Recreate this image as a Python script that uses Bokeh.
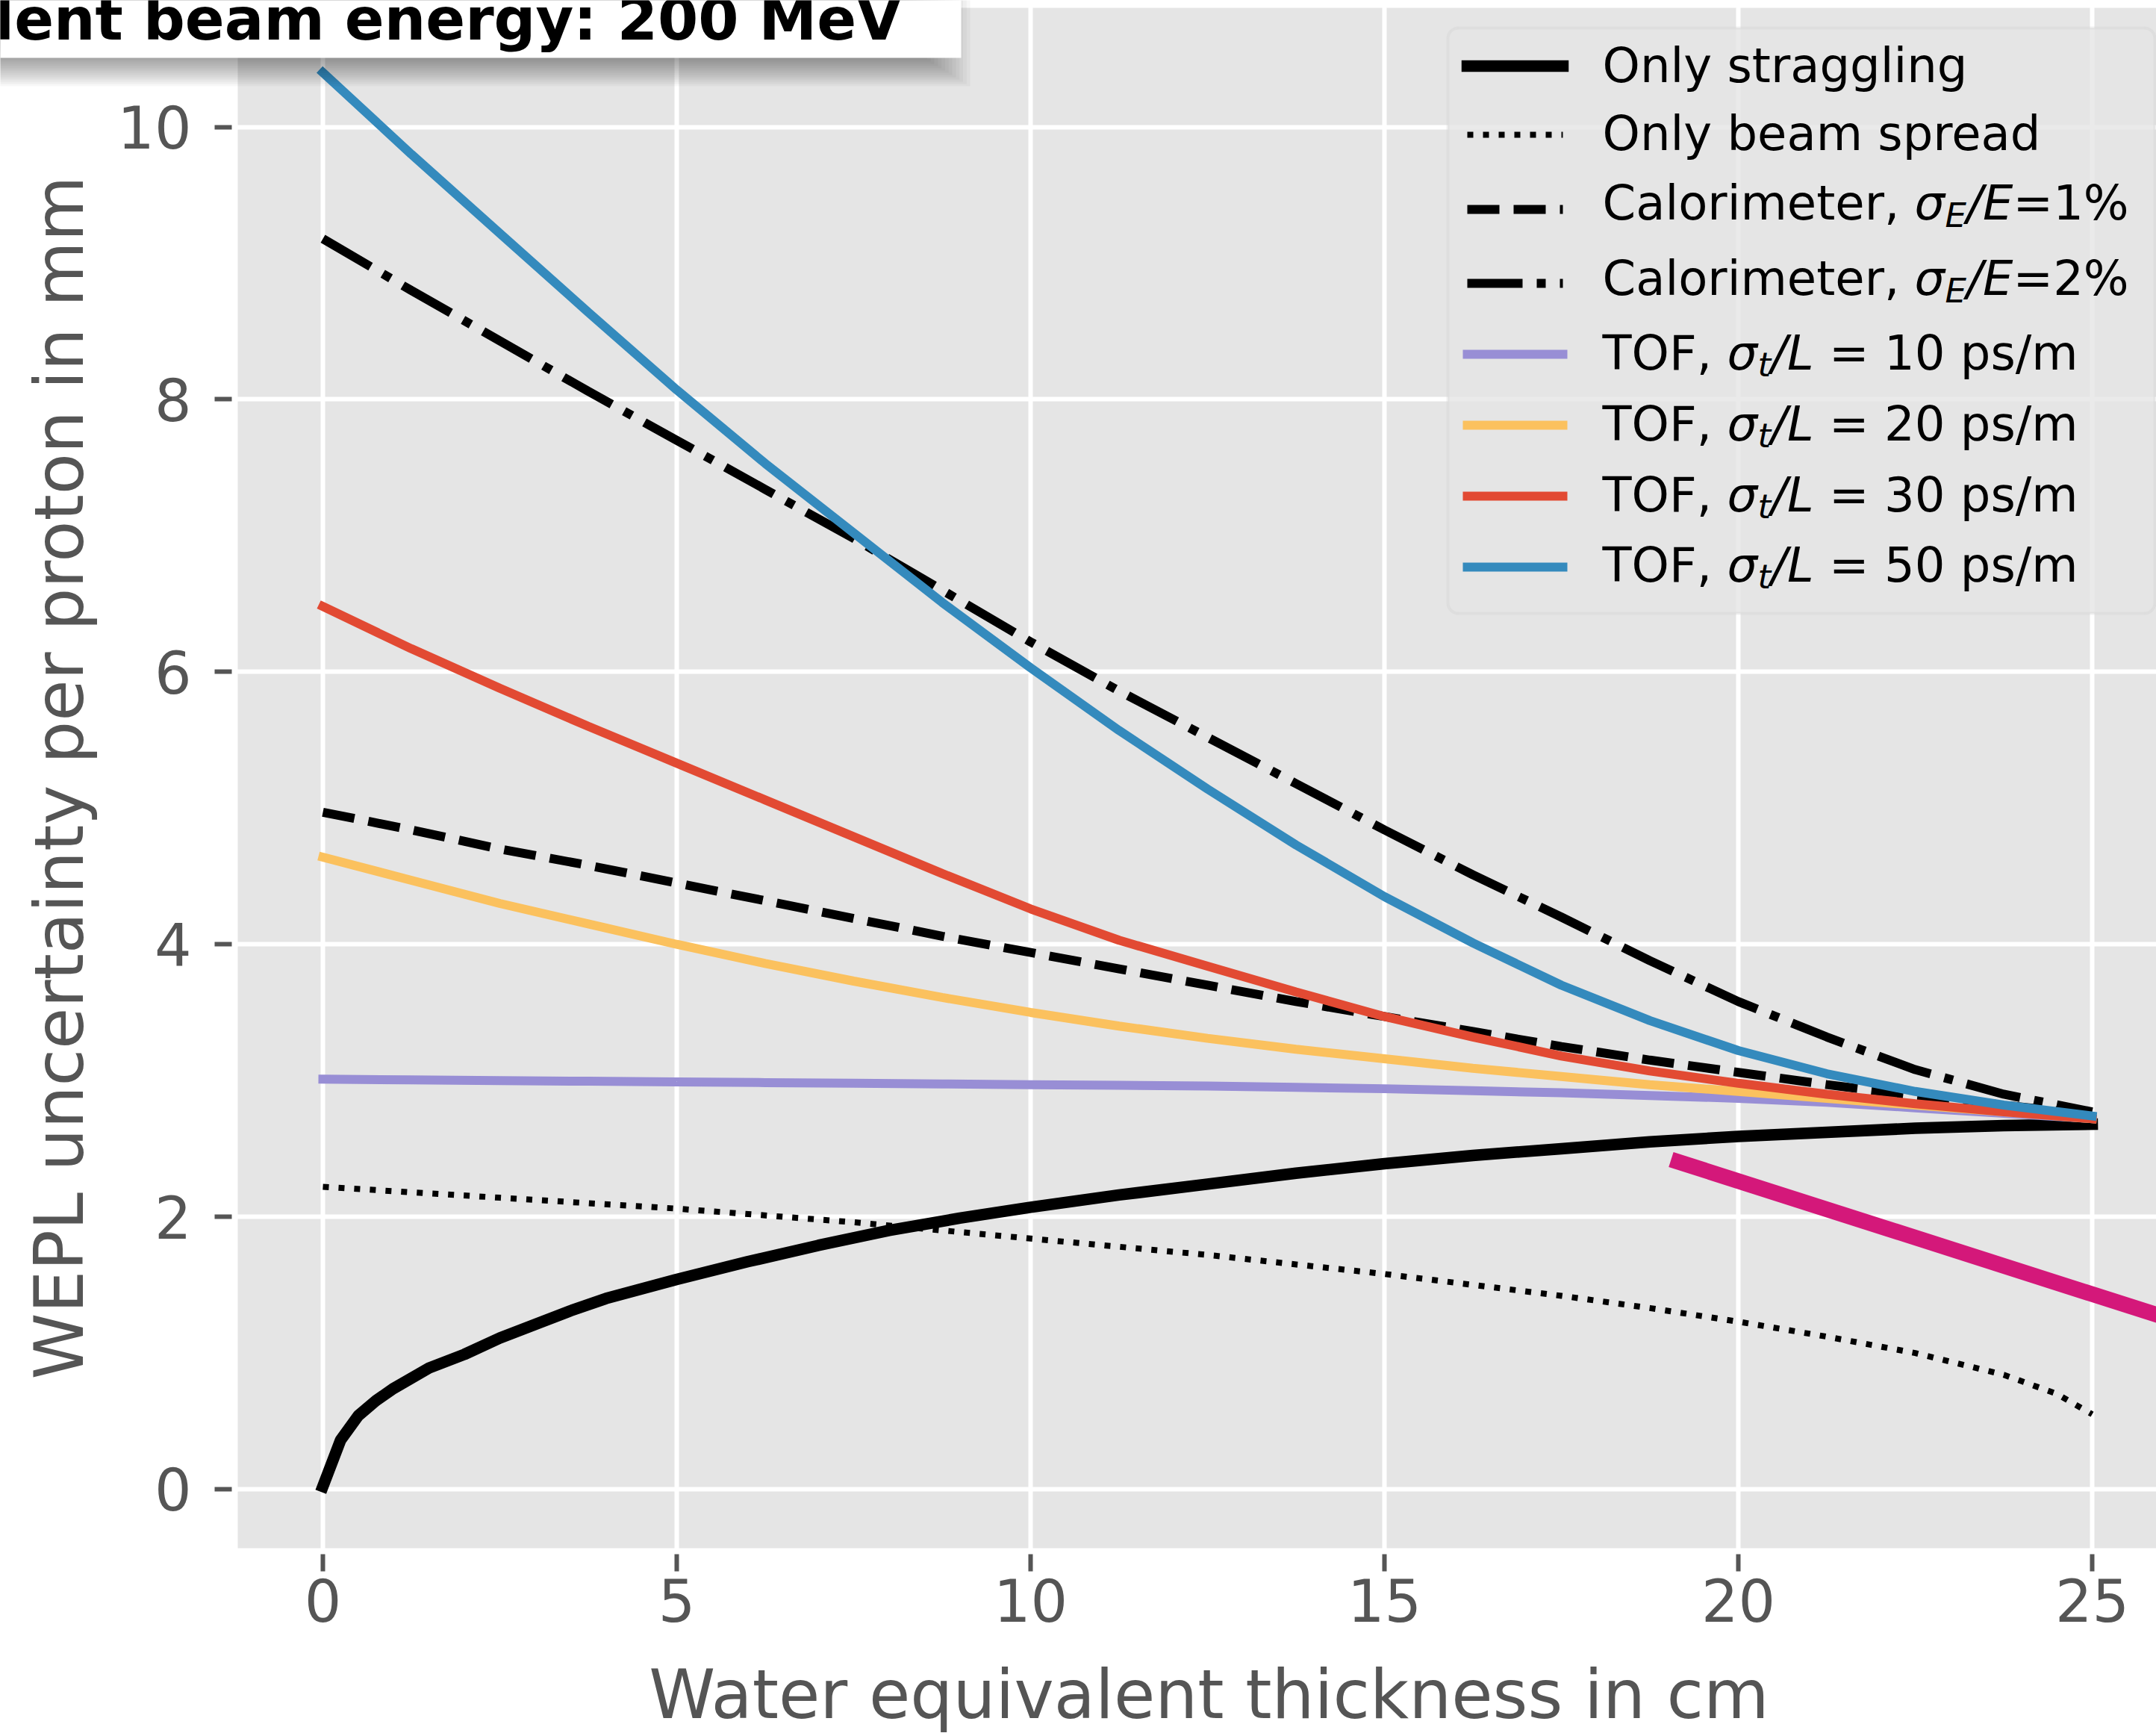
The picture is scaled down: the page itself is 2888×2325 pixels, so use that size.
from bokeh.plotting import figure
from bokeh.models import Range1d, FixedTicker, Label, BoxAnnotation, Arrow
from bokeh.embed import file_html
from bokeh.resources import INLINE

# ---------------- data ----------------
thickness = [0, 1.25, 2.5, 3.75, 5, 6.25, 7.5, 8.75, 10, 11.25, 12.5, 13.75, 15,
             16.25, 17.5, 18.75, 20, 21.25, 22.5, 23.75, 25]
tof_50 = [10.40, 9.80, 9.22, 8.64, 8.07, 7.53, 7.02, 6.51, 6.03, 5.57, 5.14, 4.73, 4.35,
          4.01, 3.70, 3.44, 3.22, 3.05, 2.92, 2.82, 2.74]
calorimeter_2 = [9.18, 8.80, 8.43, 8.06, 7.70, 7.34, 6.98, 6.60, 6.22, 5.86, 5.52, 5.18, 4.84,
                 4.51, 4.20, 3.88, 3.58, 3.32, 3.08, 2.90, 2.77]
tof_30 = [6.48, 6.17, 5.88, 5.60, 5.33, 5.06, 4.79, 4.52, 4.26, 4.03, 3.84, 3.65, 3.47,
          3.32, 3.18, 3.07, 2.98, 2.90, 2.83, 2.77, 2.72]
calorimeter_1 = [4.97, 4.84, 4.70, 4.58, 4.45, 4.32, 4.19, 4.06, 3.94, 3.82, 3.70, 3.58, 3.47,
                 3.36, 3.25, 3.15, 3.06, 2.97, 2.89, 2.82, 2.75]
tof_20 = [4.64, 4.47, 4.30, 4.15, 4.00, 3.86, 3.73, 3.61, 3.50, 3.40, 3.31, 3.23, 3.16,
          3.09, 3.03, 2.97, 2.92, 2.87, 2.82, 2.77, 2.72]
tof_10 = [3.01, 3.005, 3.00, 2.995, 2.99, 2.985, 2.98, 2.975, 2.97, 2.965, 2.96, 2.95, 2.94,
          2.925, 2.91, 2.89, 2.87, 2.84, 2.80, 2.76, 2.72]

straggling_x = [0, 0.25, 0.5, 0.75, 1, 1.5, 2, 2.5, 3, 3.5, 4, 5, 6, 7, 8, 9, 10, 11.25, 12.5,
                13.75, 15, 16.25, 17.5, 18.75, 20, 21.25, 22.5, 23.75, 25]
straggling_y = [0.02, 0.36, 0.54, 0.65, 0.74, 0.89, 0.99, 1.11, 1.21, 1.31, 1.40, 1.54, 1.67,
                1.79, 1.90, 1.99, 2.07, 2.16, 2.24, 2.32, 2.39, 2.45, 2.50, 2.55, 2.59, 2.62,
                2.65, 2.67, 2.68]

beam_spread_x = [0, 2.5, 5, 7.5, 10, 12.5, 15, 17.5, 18.75, 20, 21.25, 22.5, 23.75, 24.5, 25]
beam_spread_y = [2.22, 2.14, 2.06, 1.96, 1.84, 1.72, 1.58, 1.42, 1.33, 1.23, 1.12, 1.00,
                 0.84, 0.70, 0.55]

highlight_x = [19.05, 27.0]
highlight_y = [2.42, 1.10]

x_ticks = [0, 5, 10, 15, 20, 25]
y_ticks = [0, 2, 4, 6, 8, 10]

title_text = "Incident beam energy: 200 MeV"
x_label = "Water equivalent thickness in cm"
y_label = "WEPL uncertainty per proton in mm"

# ---------------- layout ----------------
W, H = 2888, 2325
# data window shown by the whole canvas (axes are pinned at the plot-area edges)
X0, X1 = -4.557, 25.907
Y0, Y1 = -1.8143, 10.9296
AREA_LEFT, AREA_BOTTOM, AREA_TOP = -1.2025, -0.433, 10.875


def sx(cx):
    return cx


def sy(cy):
    return H - cy


p = figure(width=W, height=H,
           x_range=Range1d(X0, X1), y_range=Range1d(Y0, Y1),
           output_backend="svg", toolbar_location=None,
           min_border_left=0, min_border_right=0, min_border_top=0, min_border_bottom=0)
p.background_fill_color = "white"
p.border_fill_color = "white"
p.outline_line_color = None

# gray plotting area
p.add_layout(BoxAnnotation(left=AREA_LEFT, right=X1 + 5, bottom=AREA_BOTTOM, top=AREA_TOP,
                           fill_color="#E5E5E5", fill_alpha=1.0, line_color=None, level="image"))

p.xaxis.ticker = FixedTicker(ticks=x_ticks)
p.yaxis.ticker = FixedTicker(ticks=y_ticks)
p.xaxis.fixed_location = AREA_BOTTOM
p.yaxis.fixed_location = AREA_LEFT
p.xaxis.bounds = (-0.85, 25.9)
p.yaxis.bounds = (AREA_BOTTOM, 10.88)
p.xaxis.axis_label = x_label
p.yaxis.axis_label = y_label
for ax in (p.xaxis, p.yaxis):
    ax.axis_line_color = None
    ax.major_tick_line_color = "#555555"
    ax.major_tick_line_width = 6
    ax.major_tick_in = -8
    ax.major_tick_out = 31
    ax.minor_tick_line_color = None
    ax.major_label_text_font = "DejaVu Sans"
    ax.major_label_text_font_size = "78px"
    ax.major_label_text_color = "#555555"
    ax.axis_label_text_font = "DejaVu Sans"
    ax.axis_label_text_font_size = "90px"
    ax.axis_label_text_font_style = "normal"
    ax.axis_label_text_color = "#555555"
p.xaxis.major_label_standoff = 10
p.yaxis.major_label_standoff = 31
p.xaxis.axis_label_standoff = 41
p.yaxis.axis_label_standoff = 22

p.grid.grid_line_color = "white"
p.grid.grid_line_width = 6

# ---------------- curves ----------------
p.line(straggling_x, straggling_y, line_color="black", line_width=15.5, line_cap="square")
p.line(beam_spread_x, beam_spread_y, line_color="black", line_width=8, line_dash="8 13")
p.line(thickness, calorimeter_1, line_color="black", line_width=12, line_dash="43 19")
p.line(thickness, calorimeter_2, line_color="black", line_width=12, line_dash="74 19 12 19")
p.line(thickness, tof_10, line_color="#988ED5", line_width=12, line_cap="square")
p.line(thickness, tof_20, line_color="#FBC15E", line_width=12, line_cap="square")
p.line(thickness, tof_30, line_color="#E24A33", line_width=12, line_cap="square")
p.line(thickness, tof_50, line_color="#348ABD", line_width=12, line_cap="square")
p.line(highlight_x, highlight_y, line_color="#D4187A", line_width=21)

# text baseline correction for Label (alphabetic anchor renders low)
BASE_CORR = 0.36


def add_text(txt, cx, base_cy, size, style="normal", align="left", color="black"):
    p.add_layout(Label(x=sx(cx), y=sy(base_cy - BASE_CORR * size),
                       x_units="screen", y_units="screen",
                       text=txt, text_align=align, text_baseline="alphabetic",
                       text_font="DejaVu Sans", text_font_style=style,
                       text_font_size=f"{size}px", text_color=color))


def screen_box(left, right, top, bottom, **kw):
    p.add_layout(BoxAnnotation(left=sx(left), right=sx(right), top=sy(top), bottom=sy(bottom),
                               left_units="screen", right_units="screen",
                               top_units="screen", bottom_units="screen", **kw))


# ---------------- title box with soft shadow ----------------
for k in range(20):
    s = -40 + 3 * k
    screen_box(-400, 1272 + 1.6 * s, -400, 98 + s,
               fill_color="black", fill_alpha=0.032, line_color=None)
screen_box(-50, 1287, -50, 77, fill_color="white", fill_alpha=1.0, line_color=None)
add_text(title_text, 1207, 54, 78, style="bold", align="right")

# ---------------- legend (manual, for the math labels) ----------------
screen_box(1939, 2886, 37, 821, fill_color="#E5E5E5", fill_alpha=0.8,
           line_color="#CCCCCC", line_width=4, border_radius=14)

legend_styles = [
    dict(line_color="black", line_width=15.5, line_dash="solid", line_cap="square"),
    dict(line_color="black", line_width=8, line_dash="8 13", line_cap="butt"),
    dict(line_color="black", line_width=12, line_dash="43 19", line_cap="butt"),
    dict(line_color="black", line_width=12, line_dash="74 19 12 19", line_cap="butt"),
    dict(line_color="#988ED5", line_width=12, line_dash="solid", line_cap="square"),
    dict(line_color="#FBC15E", line_width=12, line_dash="solid", line_cap="square"),
    dict(line_color="#E24A33", line_width=12, line_dash="solid", line_cap="square"),
    dict(line_color="#348ABD", line_width=12, line_dash="solid", line_cap="square"),
]
row_line_y = [88, 180, 280, 379, 474, 569, 664, 759]
row_base_y = [111, 202, 295, 396, 496, 591, 686, 780]


def cal_pieces(pct):
    return [("Calorimeter,", 2146, "normal", 64, 0), ("σ", 2564, "italic", 64, 0),
            ("E", 2605, "italic", 45, 9), ("/E", 2634, "italic", 64, 0),
            ("=" + pct, 2696, "normal", 64, 0)]


def tof_pieces(rate):
    return [("TOF,", 2146, "normal", 64, 0), ("σ", 2313, "italic", 64, 0),
            ("t", 2354, "italic", 45, 8), ("/L", 2372, "italic", 64, 0),
            ("= " + rate, 2449.5, "normal", 64, 0)]


legend_texts = [
    [("Only straggling", 2146, "normal", 64, 0)],
    [("Only beam spread", 2146, "normal", 64, 0)],
    cal_pieces("1%"),
    cal_pieces("2%"),
    tof_pieces("10 ps/m"),
    tof_pieces("20 ps/m"),
    tof_pieces("30 ps/m"),
    tof_pieces("50 ps/m"),
]

for style, ly, by, pieces in zip(legend_styles, row_line_y, row_base_y, legend_texts):
    p.add_layout(Arrow(end=None, x_start=sx(1965), y_start=sy(ly), x_end=sx(2093), y_end=sy(ly),
                       start_units="screen", end_units="screen", **style))
    for txt, cx, fstyle, fsize, dy in pieces:
        add_text(txt, cx, by + dy, fsize, style=fstyle)

open("out.html", "w").write(file_html(p, INLINE))
